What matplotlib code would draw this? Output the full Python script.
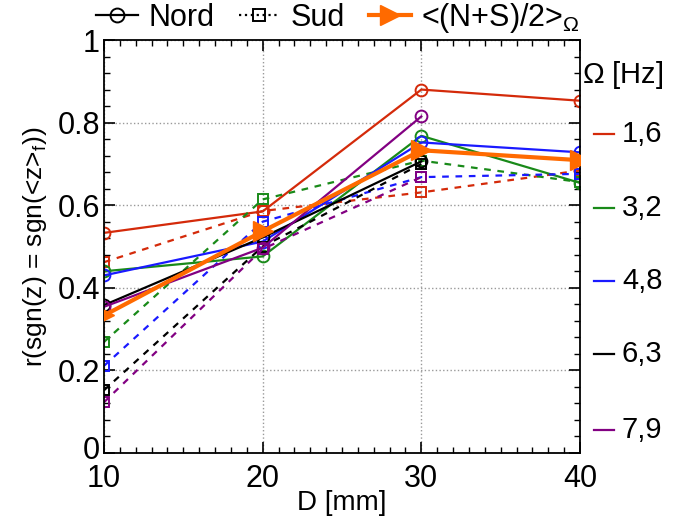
import matplotlib
matplotlib.use("Agg")
import matplotlib.pyplot as plt
from matplotlib.lines import Line2D
from matplotlib.ticker import MultipleLocator
from matplotlib.transforms import ScaledTranslation

plt.rcParams['font.family'] = ['Liberation Sans', 'DejaVu Sans']
plt.rcParams['mathtext.fontset'] = 'custom'
plt.rcParams['mathtext.rm'] = 'Liberation Sans'

# data
D = [10, 20, 30, 40]
omega_labels = ['1,6', '3,2', '4,8', '6,3', '7,9']
colors = ['#d42a0a', '#198a19', '#1a1aff', '#000000', '#820082']

nord = [
    [0.533, 0.585, 0.880, 0.853],
    [0.440, 0.476, 0.768, 0.654],
    [0.430, 0.512, 0.752, 0.728],
    [0.358, 0.522, 0.706, None],
    [0.354, 0.497, 0.815, None],
]
sud = [
    [0.462, 0.586, 0.631, 0.684],
    [0.269, 0.614, 0.708, 0.656],
    [0.211, 0.560, 0.668, 0.676],
    [0.152, 0.500, 0.700, None],
    [0.123, 0.494, 0.668, None],
]
mean_ns = [0.333, 0.537, 0.733, 0.709]

fig = plt.figure(figsize=(6.86, 5.17), dpi=100)
ax = fig.add_axes([0.1516, 0.1238, 0.8455 - 0.1516, 0.9226 - 0.1238])

for i in range(len(omega_labels)):
    n = [v for v in nord[i] if v is not None]
    s = [v for v in sud[i] if v is not None]
    ax.plot(D[:len(n)], n, '-', color=colors[i], lw=1.6, marker='o', ms=8.5,
            mfc='none', mew=1.4)
    ax.plot(D[:len(s)], s, '--', color=colors[i], lw=1.6, marker='s', ms=7.5,
            mfc='none', mew=1.4, dashes=(3, 3))

ax.plot(D, mean_ns, '-', color='#ff6a00', lw=3, marker='>', ms=14, zorder=5)

ax.set_xlim(10, 40)
ax.set_ylim(0, 1)
ax.xaxis.set_major_locator(MultipleLocator(10))
ax.xaxis.set_minor_locator(MultipleLocator(1))
ax.yaxis.set_minor_locator(MultipleLocator(0.04))
ax.set_yticks([0, 0.2, 0.4, 0.6, 0.8, 1])
ax.set_yticklabels(['0', '0.2', '0.4', '0.6', '0.8', '1'])
ax.tick_params(which='both', direction='in', top=True, right=True, labelsize=22)
ax.tick_params(axis='y', pad=3)
ax.tick_params(axis='x', pad=8)
ax.tick_params(which='major', length=8, width=1.2)
ax.tick_params(which='minor', length=4, width=1)
ax.grid(True, which='major', linestyle=':', color='#999999', lw=1)
for sp in ax.spines.values():
    sp.set_linewidth(1.3)

# nudge the "0" label up a bit so it sits just above the "10"
zero_lbl = ax.get_yticklabels()[0]
zero_lbl.set_transform(zero_lbl.get_transform() + ScaledTranslation(0, 4 / 72, fig.dpi_scale_trans))

ax.set_xlabel('D [mm]', fontsize=20, labelpad=-3)
ax.set_ylabel(r'r(sgn(z) = sgn(<z>$_\mathregular{f}$))', fontsize=19, labelpad=6)

# top legend
handles = [
    Line2D([], [], color='k', lw=1.6, marker='o', mfc='none', ms=10, mew=1.4),
    Line2D([], [], color='k', lw=1.6, ls=':', marker='s', mfc='none', ms=9, mew=1.4),
    Line2D([], [], color='#ff6a00', lw=3, marker='>', ms=14),
]
labels = ['Nord', 'Sud', r'<(N+S)/2>$_\Omega$']
fig.legend(handles, labels, loc='center', bbox_to_anchor=(0.493, 0.965), ncol=3,
           frameon=False, fontsize=22, handlelength=1.35, handletextpad=0.35,
           columnspacing=0.8, borderaxespad=0)

# right legend
ax.text(1.005, 0.915, r'$\Omega$ [Hz]', transform=ax.transAxes, fontsize=21,
        va='center', ha='left')
y_pos = [0.772, 0.593, 0.416, 0.24, 0.056]
for i in range(len(omega_labels)):
    ax.plot([1.029, 1.071], [y_pos[i], y_pos[i]], color=colors[i], lw=1.6,
            transform=ax.transAxes, clip_on=False)
    ax.text(1.088, y_pos[i], omega_labels[i], transform=ax.transAxes, fontsize=21,
            va='center', ha='left')

fig.savefig('out.png', dpi=100)
